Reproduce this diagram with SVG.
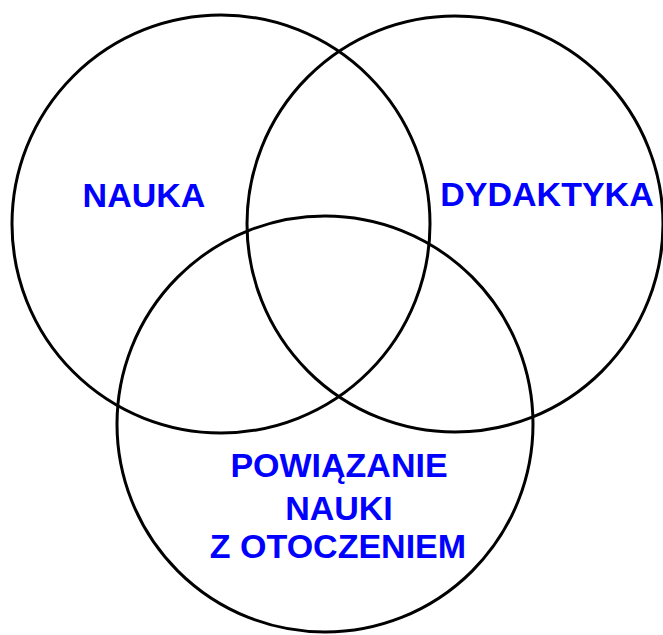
<svg xmlns="http://www.w3.org/2000/svg" width="663" height="635" viewBox="0 0 663 635">
<style>
.c{fill:none;stroke:#000;stroke-width:3}
.t{font-family:"Liberation Sans",Arial,sans-serif;font-weight:bold;font-size:34px;fill:#0000FF;text-anchor:middle}
</style>
<rect width="663" height="635" fill="#fff"/>
<g id="nauka">
<circle class="c" cx="221" cy="224" r="209"/>
<text class="t" x="144" y="207">NAUKA</text>
</g>
<g id="dydaktyka">
<circle class="c" cx="455" cy="224" r="208"/>
<text class="t" x="547" y="206">DYDAKTYKA</text>
</g>
<g id="powiazanie">
<circle class="c" cx="325" cy="424" r="208"/>
<text class="t" x="339" y="477">POWIĄZANIE</text>
<text class="t" x="339" y="520">NAUKI</text>
<text class="t" x="338" y="558">Z OTOCZENIEM</text>
</g>
<g id="connectors"/>
</svg>
